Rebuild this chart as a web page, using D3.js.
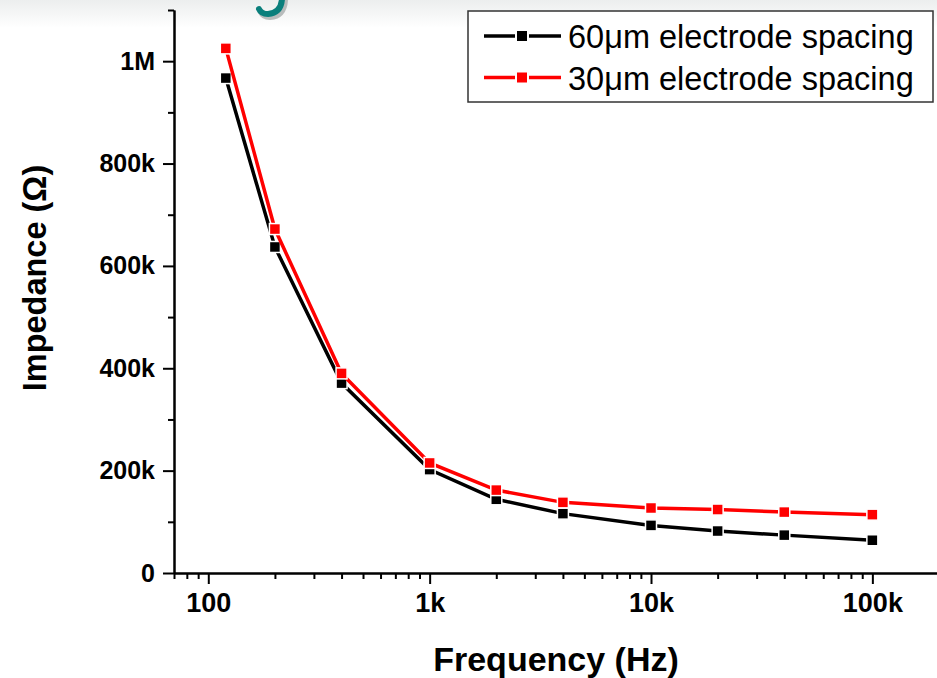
<!DOCTYPE html>
<html>
<head>
<meta charset="utf-8">
<script src="https://cdn.jsdelivr.net/npm/d3@7/dist/d3.min.js"></script>
<style>
    body { margin: 0; background: #fff; }
    svg { display: block; font-family: Arial, "Liberation Sans", sans-serif; }
    .axis path, .axis line { stroke: #000; stroke-width: 2px; }
    .axis text { font-weight: bold; fill: #000; }
    .x.axis text { font-size: 27px; }
    .y.axis text { font-size: 25px; }
    .title { font-weight: bold; fill: #000; }
</style>
</head>
<body>
<div id="vis"></div>
<script>
// frequency points (Hz)
var freqs = [120, 200, 400, 1000, 2000, 4000, 10000, 20000, 40000, 100000];
// impedance (ohm)
var spacing60 = [967000, 637000, 371000, 202000, 144000, 116000, 93000, 82000, 74000, 64000];
var spacing30 = [1025000, 672000, 390000, 215000, 162000, 138000, 127000, 124000, 119000, 114000];
var seriesNames = ['60\u03bcm electrode spacing', '30\u03bcm electrode spacing'];
var seriesColors = ['#000000', '#ff0000'];
var xTicks = [100, 1000, 10000, 100000];
var xTickLabels = ['100', '1k', '10k', '100k'];
var yTicks = [0, 200000, 400000, 600000, 800000, 1000000];
var yTickLabels = ['0', '200k', '400k', '600k', '800k', '1M'];

var width = 937, height = 678,
    margin = {top: 10, right: -2, bottom: 105, left: 174},
    drawWidth = width - margin.left - margin.right,
    drawHeight = height - margin.top - margin.bottom;

var svg = d3.select('#vis').append('svg')
    .attr('width', width)
    .attr('height', height);

// faint slide banner at the top
var grad = svg.append('defs').append('linearGradient')
    .attr('id', 'topfade').attr('x1', 0).attr('x2', 0).attr('y1', 0).attr('y2', 1);
grad.append('stop').attr('offset', '0%').attr('stop-color', '#eceeee');
grad.append('stop').attr('offset', '100%').attr('stop-color', '#ffffff');
svg.append('rect').attr('x', 0).attr('y', 0).attr('width', width).attr('height', 28)
    .attr('fill', 'url(#topfade)');
svg.append('path').attr('d', 'M285,0 Q284,16 270,17 Q263,17 261,12')
    .attr('fill', 'none').attr('stroke', '#b8bcbc').attr('stroke-width', 6).attr('stroke-linecap', 'round');
svg.append('path').attr('d', 'M282,-1 Q281,13 268,14 Q261,14 259,9')
    .attr('fill', 'none').attr('stroke', '#0a7f7c').attr('stroke-width', 6).attr('stroke-linecap', 'round');

var g = svg.append('g')
    .attr('transform', 'translate(' + margin.left + ',' + margin.top + ')');

var xScale = d3.scaleLog().domain([70, 200000]).range([0, drawWidth]);
var yScale = d3.scaleLinear().domain([0, 1100000]).range([drawHeight, 0]);

// minor ticks
var xMinor = [];
[10, 100, 1000, 10000].forEach(function(dec) {
    for (var k = 2; k <= 9; k++) {
        var v = dec * k;
        if (v >= 70 && v <= 200000) xMinor.push(v);
    }
});
var yMinor = d3.range(100000, 1100001, 200000);

g.append('g').attr('class', 'x axis')
    .attr('transform', 'translate(0,' + drawHeight + ')')
    .call(d3.axisBottom(xScale).tickValues(xMinor).tickSize(6).tickSizeOuter(0).tickFormat(''));
g.append('g').attr('class', 'x axis')
    .attr('transform', 'translate(0,' + drawHeight + ')')
    .call(d3.axisBottom(xScale).tickValues(xTicks).tickSize(11).tickSizeOuter(0).tickPadding(9)
        .tickFormat(function(d, i) { return xTickLabels[i]; }));

g.append('g').attr('class', 'y axis')
    .call(d3.axisLeft(yScale).tickValues(yMinor).tickSize(6).tickSizeOuter(0).tickFormat(''));
g.append('g').attr('class', 'y axis')
    .call(d3.axisLeft(yScale).tickValues(yTicks).tickSize(11).tickSizeOuter(0).tickPadding(8)
        .tickFormat(function(d, i) { return yTickLabels[i]; }));

// axis titles
svg.append('text').attr('class', 'title')
    .attr('x', 556).attr('y', 671)
    .attr('text-anchor', 'middle')
    .style('font-size', '34px')
    .text('Frequency (Hz)');
svg.append('text').attr('class', 'title')
    .attr('transform', 'translate(46,278) rotate(-90)')
    .attr('text-anchor', 'middle')
    .style('font-size', '32.5px')
    .text('Impedance (\u03a9)');

// series
var series = [spacing60, spacing30].map(function(vals, i) {
    return {
        name: seriesNames[i],
        color: seriesColors[i],
        points: freqs.map(function(f, j) { return {f: f, v: vals[j]}; })
    };
});

var line = d3.line()
    .x(function(d) { return xScale(d.f); })
    .y(function(d) { return yScale(d.v); });

var sg = g.selectAll('.series').data(series).enter().append('g').attr('class', 'series');

sg.append('path')
    .attr('d', function(d) { return line(d.points); })
    .attr('fill', 'none')
    .attr('stroke', function(d) { return d.color; })
    .attr('stroke-width', 3.5);

sg.each(function(s) {
    d3.select(this).selectAll('rect').data(s.points).enter().append('rect')
        .attr('x', function(d) { return xScale(d.f) - 5.5; })
        .attr('y', function(d) { return yScale(d.v) - 5.5; })
        .attr('width', 11).attr('height', 11)
        .attr('fill', s.color)
        .attr('stroke', '#fff').attr('stroke-width', 1.5);
});

// legend
var legend = svg.append('g').attr('transform', 'translate(468,11)');
legend.append('rect').attr('width', 465).attr('height', 91)
    .attr('fill', '#fff').attr('stroke', '#333').attr('stroke-width', 1.5);

var item = legend.selectAll('.item').data(series).enter().append('g')
    .attr('class', 'item')
    .attr('transform', function(d, i) { return 'translate(0,' + (25 + i * 41.5) + ')'; });
item.append('line').attr('x1', 16).attr('x2', 93).attr('y1', 0).attr('y2', 0)
    .attr('stroke', function(d) { return d.color; }).attr('stroke-width', 3.5);
item.append('rect').attr('x', 48).attr('y', -6).attr('width', 12).attr('height', 12)
    .attr('fill', function(d) { return d.color; })
    .attr('stroke', '#fff').attr('stroke-width', 2);
item.append('text').attr('x', 100).attr('y', 12)
    .style('font-size', '32.5px').attr('fill', '#000')
    .text(function(d) { return d.name; });
</script>
</body>
</html>
